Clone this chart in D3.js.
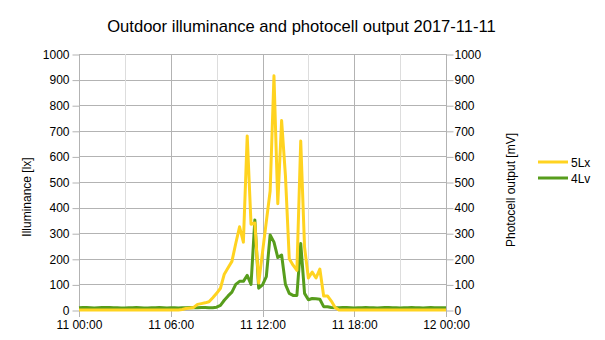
<!DOCTYPE html>
<meta charset="utf-8">
<style>
    body { margin: 0; background: white; }
    svg { display: block; background: white; }
    text { font-family: "Liberation Sans", Arial, sans-serif; fill: #000; }
    .grid line { stroke: #b3b3b3; stroke-width: 1; }
    .grid line.minor { stroke: #dddddd; }
    .axis path { display: none; }
    .axis line { stroke: #b3b3b3; }
    .axis text { font-size: 12px; }
    .series { fill: none; stroke-width: 3; stroke-linejoin: round; }
</style>
<svg width="605" height="340"></svg>
<script src="https://d3js.org/d3.v7.min.js"></script>
<script>
    // hours of day, one sample every 15 minutes
    var hours = d3.range(0, 24.01, 0.25);

    var lux5 = [
        0, 0, 0, 0, 0, 0, 0, 0, 0, 0, 0, 0, 0, 0, 0, 0,
        0, 0, 0, 0, 0, 0, 0, 0, 0, 0, 0, 2, 6, 8, 10, 22,
        25, 28, 32, 48, 65, 85, 140, 165, 190, 260, 325, 265, 680, 335, 340, 105,
        225, 345, 465, 915, 415, 740, 525, 200, 175, 155, 660, 245, 125, 148, 125, 160,
        55, 55, 35, 10, 0, 0, 0, 0, 0, 0, 0, 0, 0, 0, 0, 0,
        0, 0, 0, 0, 0, 0, 0, 0, 0, 0, 0, 0, 0, 0, 0, 0, 0
    ];

    var lv4 = [
        9, 10, 10, 9, 8, 9, 10, 10, 10, 9, 9, 8, 8, 9, 9, 10,
        9, 8, 8, 9, 9, 10, 9, 8, 9, 9, 8, 9, 9, 10, 9, 9,
        10, 10, 9, 9, 11, 18, 38, 55, 70, 100, 112, 112, 135, 100, 352, 85,
        98, 130, 293, 265, 205, 215, 100, 65, 57, 57, 260, 65, 40, 45, 44, 42,
        13, 13, 10, 9, 9, 10, 10, 9, 8, 9, 9, 10, 9, 9, 8, 9,
        10, 10, 9, 9, 8, 9, 9, 10, 9, 9, 8, 9, 10, 9, 9, 9, 9
    ];

    var xTickHours = [0, 6, 12, 18, 24];
    var xTickLabels = ["11 00:00", "11 06:00", "11 12:00", "11 18:00", "12 00:00"];
    var minorHours = [3, 9, 15, 21];
    var yTicks = d3.range(0, 1001, 100);

    var svg = d3.select("svg");
    var plotL = 79, plotR = 446, plotT = 54, plotB = 310;

    var x = d3.scaleLinear().domain([0, 24]).range([plotL, plotR]);
    var y = d3.scaleLinear().domain([0, 1000]).range([plotB, plotT]);
    var y2 = d3.scaleLinear().domain([0, 1000]).range([plotB, plotT]);

    // gridlines
    var grid = svg.append("g").attr("class", "grid");
    grid.selectAll("line.h")
        .data(yTicks)
        .enter().append("line")
        .attr("x1", plotL).attr("x2", plotR)
        .attr("y1", function (d) { return Math.round(y(d)) + 0.5; })
        .attr("y2", function (d) { return Math.round(y(d)) + 0.5; });
    grid.selectAll("line.minor")
        .data(minorHours)
        .enter().append("line")
        .attr("class", "minor")
        .attr("y1", plotT).attr("y2", plotB)
        .attr("x1", function (d) { return Math.round(x(d)) + 0.5; })
        .attr("x2", function (d) { return Math.round(x(d)) + 0.5; });
    grid.selectAll("line.major")
        .data(xTickHours)
        .enter().append("line")
        .attr("y1", plotT).attr("y2", plotB + 7)
        .attr("x1", function (d) { return Math.round(x(d)) + 0.5; })
        .attr("x2", function (d) { return Math.round(x(d)) + 0.5; });

    // axes
    svg.append("g")
        .attr("class", "axis")
        .attr("transform", "translate(" + (plotL + 0.5) + ",0.5)")
        .call(d3.axisLeft(y).tickValues(yTicks).tickSize(7).tickPadding(3).tickFormat(d3.format("d")));

    svg.append("g")
        .attr("class", "axis")
        .attr("transform", "translate(" + (plotR + 0.5) + ",0.5)")
        .call(d3.axisRight(y2).tickValues(yTicks).tickSize(7).tickPadding(1).tickFormat(d3.format("d")));

    svg.append("g")
        .attr("class", "axis")
        .attr("transform", "translate(0," + (plotB + 0.5) + ")")
        .call(d3.axisBottom(x).tickValues(xTickHours).tickSize(0).tickPadding(10)
            .tickFormat(function (d, i) { return xTickLabels[i]; }));

    // series (yellow drawn over green)
    var line = d3.line()
        .x(function (d) { return x(d[0]); })
        .y(function (d) { return y(d[1]); });

    svg.append("path")
        .datum(d3.zip(hours, lv4))
        .attr("class", "series")
        .attr("stroke", "#579d1c")
        .attr("d", line);

    svg.append("path")
        .datum(d3.zip(hours, lux5))
        .attr("class", "series")
        .attr("stroke", "#ffd320")
        .attr("d", line);

    // titles
    svg.append("text")
        .attr("x", 301.5).attr("y", 32)
        .attr("text-anchor", "middle")
        .style("font-size", "16.6px")
        .text("Outdoor illuminance and photocell output 2017-11-11");

    svg.append("text")
        .attr("transform", "translate(31,197) rotate(-90)")
        .attr("text-anchor", "middle")
        .style("font-size", "12px")
        .text("Illuminance [lx]");

    svg.append("text")
        .attr("transform", "translate(515,190) rotate(-90)")
        .attr("text-anchor", "middle")
        .style("font-size", "12px")
        .text("Photocell output [mV]");

    // legend
    var legend = svg.append("g").attr("transform", "translate(538,162)");
    var names = ["5Lx", "4Lv"], colors = ["#ffd320", "#579d1c"];
    names.forEach(function (n, i) {
        legend.append("line")
            .attr("x1", 0).attr("x2", 30)
            .attr("y1", i * 16).attr("y2", i * 16)
            .attr("stroke", colors[i]).attr("stroke-width", 3);
        legend.append("text")
            .attr("x", 33).attr("y", i * 16 + 4.5)
            .style("font-size", "12px")
            .text(n);
    });
</script>
